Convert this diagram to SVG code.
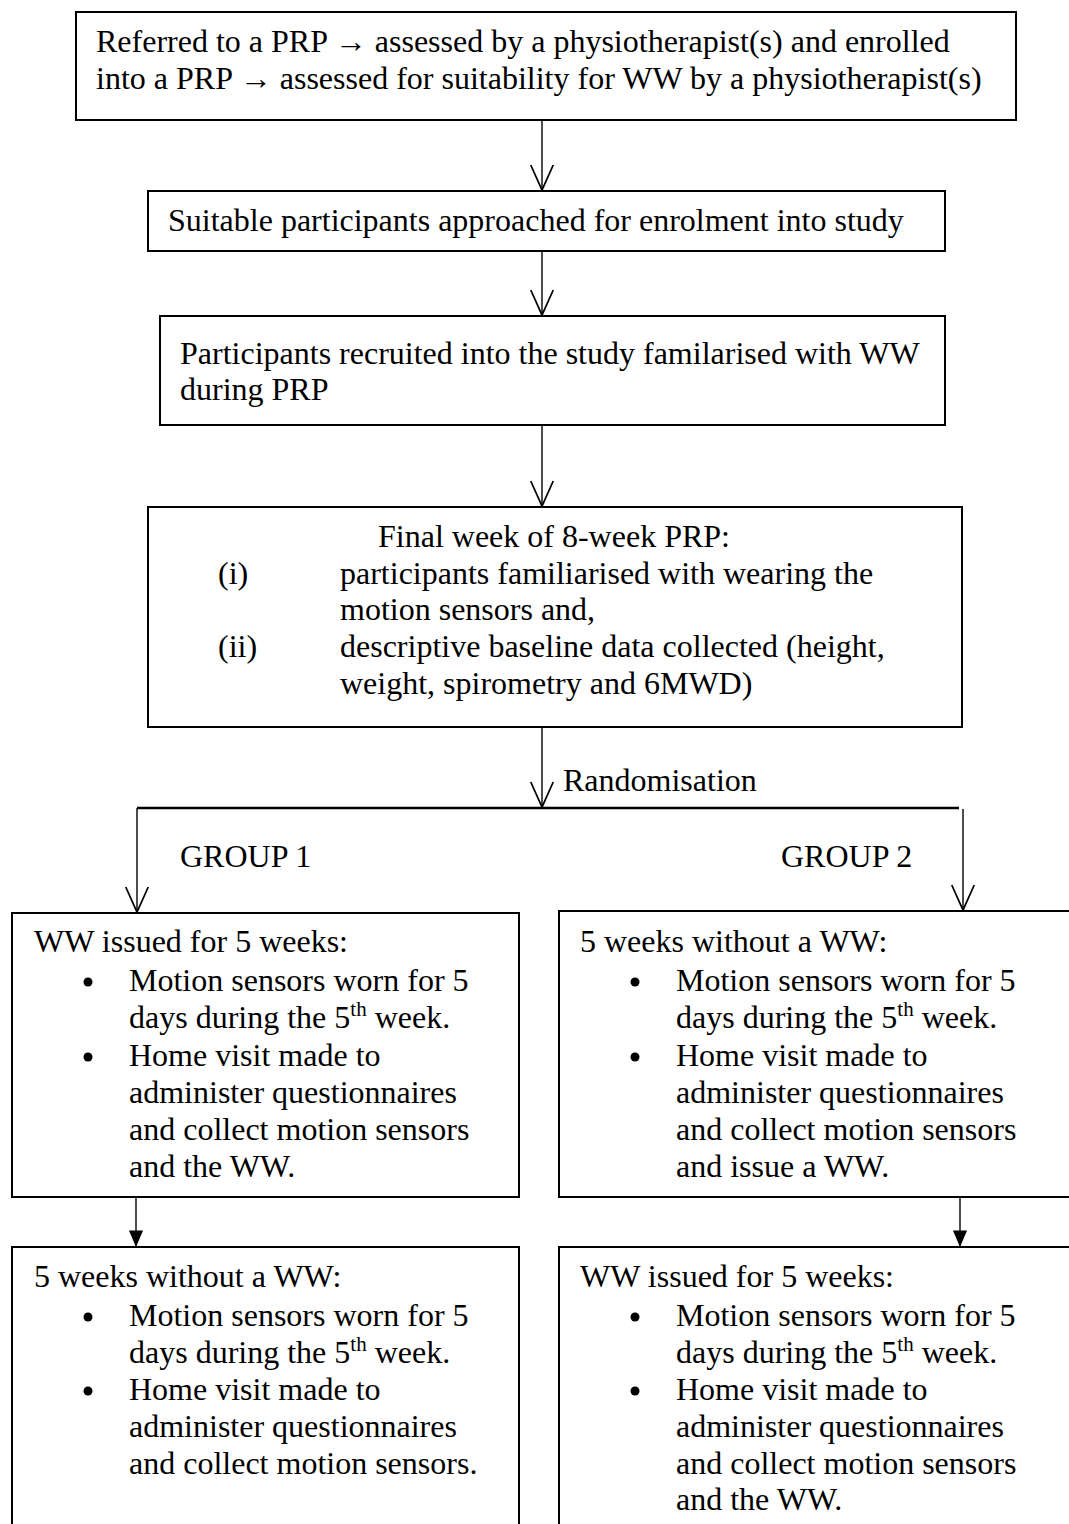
<svg xmlns="http://www.w3.org/2000/svg" width="1069" height="1524" viewBox="0 0 1069 1524">
<defs>
<style>
.box{fill:#fff;stroke:#000;stroke-width:2}
.t{font-family:"Liberation Serif","Times New Roman",serif;font-size:32px;fill:#000}
.sup{font-size:21px}
.ln{stroke:#000;stroke-width:1.4;fill:none}
.open{marker-end:url(#open)}
.fill{marker-end:url(#solid)}
</style>
<marker id="open" markerUnits="userSpaceOnUse" markerWidth="30" markerHeight="30" viewBox="-22 -11 24 22" refX="0" refY="0" orient="auto">
<path d="M-20,-9 L0,0 L-20,9" fill="none" stroke="#000" stroke-width="1.4"/>
</marker>
<marker id="solid" markerUnits="userSpaceOnUse" markerWidth="20" markerHeight="20" viewBox="-16 -8 17 16" refX="0" refY="0" orient="auto">
<path d="M-14,-6 L0,0 L-14,6 Z" fill="#000"/>
</marker>
</defs>
<rect width="1069" height="1524" fill="#fff"/>

<g id="connectors">
<line class="ln open" x1="542" y1="120" x2="542" y2="190"/>
<line class="ln open" x1="542" y1="251" x2="542" y2="315"/>
<line class="ln open" x1="542" y1="425" x2="542" y2="506"/>
<line class="ln open" x1="542" y1="727" x2="542" y2="807"/>
<line x1="137" y1="808" x2="959" y2="808" stroke="#000" stroke-width="2.4"/>
<line class="ln open" x1="137" y1="808" x2="137" y2="912"/>
<line class="ln open" x1="963" y1="809" x2="963" y2="910"/>
<line class="ln fill" x1="136" y1="1197" x2="136" y2="1247" stroke-width="2"/>
<line class="ln fill" x1="960" y1="1197" x2="960" y2="1247" stroke-width="2"/>
<text class="t" x="563" y="791">Randomisation</text>
<text class="t" x="180" y="867">GROUP 1</text>
<text class="t" x="781" y="867">GROUP 2</text>
</g>

<g id="node-referred">
<rect class="box" x="76" y="12" width="940" height="108"/>
<text class="t" x="96" y="52">Referred to a PRP → assessed by a physiotherapist(s) and enrolled</text>
<text class="t" x="96" y="89">into a PRP → assessed for suitability for WW by a physiotherapist(s)</text>
</g>

<g id="node-approached">
<rect class="box" x="148" y="191" width="797" height="60"/>
<text class="t" x="168" y="231">Suitable participants approached for enrolment into study</text>
</g>

<g id="node-recruited">
<rect class="box" x="160" y="316" width="785" height="109"/>
<text class="t" x="180" y="364">Participants recruited into the study familarised with WW</text>
<text class="t" x="180" y="400">during PRP</text>
</g>

<g id="node-final-week">
<rect class="box" x="148" y="507" width="814" height="220"/>
<text class="t" x="378" y="547">Final week of 8-week PRP:</text>
<text class="t" x="218" y="584">(i)</text>
<text class="t" x="340" y="584">participants familiarised with wearing the</text>
<text class="t" x="340" y="620">motion sensors and,</text>
<text class="t" x="218" y="657">(ii)</text>
<text class="t" x="340" y="657">descriptive baseline data collected (height,</text>
<text class="t" x="340" y="694">weight, spirometry and 6MWD)</text>
</g>

<g id="node-g1-phase1">
<rect class="box" x="12" y="913" width="507" height="284"/>
<text class="t" x="34" y="952">WW issued for 5 weeks:</text>
<circle cx="88" cy="982" r="4.5"/>
<text class="t" x="129" y="991">Motion sensors worn for 5</text>
<text class="t" x="129" y="1028">days during the 5<tspan class="sup" dy="-12">th</tspan><tspan dy="12"> week.</tspan></text>
<circle cx="88" cy="1057" r="4.5"/>
<text class="t" x="129" y="1066">Home visit made to</text>
<text class="t" x="129" y="1103">administer questionnaires</text>
<text class="t" x="129" y="1140">and collect motion sensors</text>
<text class="t" x="129" y="1177">and the WW.</text>
</g>

<g id="node-g2-phase1">
<rect class="box" x="559" y="911" width="520" height="286"/>
<text class="t" x="580" y="952">5 weeks without a WW:</text>
<circle cx="635" cy="982" r="4.5"/>
<text class="t" x="676" y="991">Motion sensors worn for 5</text>
<text class="t" x="676" y="1028">days during the 5<tspan class="sup" dy="-12">th</tspan><tspan dy="12"> week.</tspan></text>
<circle cx="635" cy="1057" r="4.5"/>
<text class="t" x="676" y="1066">Home visit made to</text>
<text class="t" x="676" y="1103">administer questionnaires</text>
<text class="t" x="676" y="1140">and collect motion sensors</text>
<text class="t" x="676" y="1177">and issue a WW.</text>
</g>

<g id="node-g1-phase2">
<rect class="box" x="12" y="1247" width="507" height="300"/>
<text class="t" x="34" y="1287">5 weeks without a WW:</text>
<circle cx="88" cy="1317" r="4.5"/>
<text class="t" x="129" y="1326">Motion sensors worn for 5</text>
<text class="t" x="129" y="1363">days during the 5<tspan class="sup" dy="-12">th</tspan><tspan dy="12"> week.</tspan></text>
<circle cx="88" cy="1391" r="4.5"/>
<text class="t" x="129" y="1400">Home visit made to</text>
<text class="t" x="129" y="1437">administer questionnaires</text>
<text class="t" x="129" y="1474">and collect motion sensors.</text>
</g>

<g id="node-g2-phase2">
<rect class="box" x="559" y="1247" width="520" height="300"/>
<text class="t" x="580" y="1287">WW issued for 5 weeks:</text>
<circle cx="635" cy="1317" r="4.5"/>
<text class="t" x="676" y="1326">Motion sensors worn for 5</text>
<text class="t" x="676" y="1363">days during the 5<tspan class="sup" dy="-12">th</tspan><tspan dy="12"> week.</tspan></text>
<circle cx="635" cy="1391" r="4.5"/>
<text class="t" x="676" y="1400">Home visit made to</text>
<text class="t" x="676" y="1437">administer questionnaires</text>
<text class="t" x="676" y="1474">and collect motion sensors</text>
<text class="t" x="676" y="1510">and the WW.</text>
</g>
</svg>
